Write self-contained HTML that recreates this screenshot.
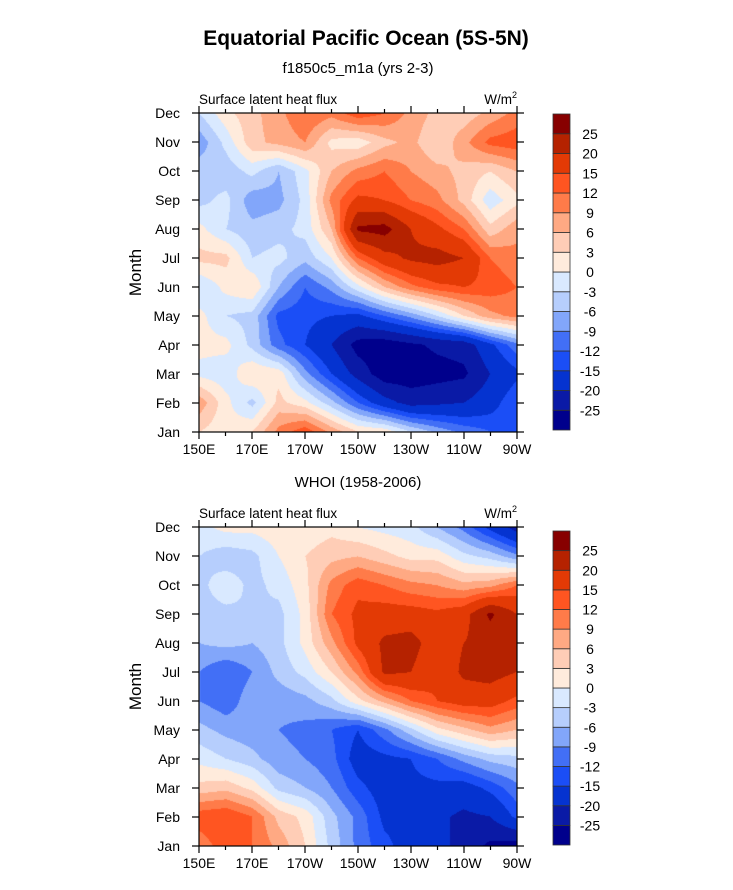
<!DOCTYPE html>
<html><head><meta charset="utf-8">
<style>
body{margin:0;background:#fff;width:733px;height:890px;position:relative;overflow:hidden;font-family:"Liberation Sans",Arial,sans-serif;}
canvas{position:absolute;}
svg{position:absolute;left:0;top:0;}
</style></head>
<body>
<canvas id="c1" width="318" height="319" style="left:199px;top:113px"></canvas>
<canvas id="c2" width="318" height="319" style="left:199px;top:527px"></canvas>
<svg id="s" width="733" height="890"></svg>
<script>
// longitude categories (columns) and months (rows, Jan..Dec)
const lons = ["150E","160E","170E","180","170W","160W","150W","140W","130W","120W","110W","100W","90W"];
const lonTickLabels = ["150E","170E","170W","150W","130W","110W","90W"];
const months = ["Jan","Feb","Mar","Apr","May","Jun","Jul","Aug","Sep","Oct","Nov","Dec"];
const levels = [-25,-20,-15,-12,-9,-6,-3,0,3,6,9,12,15,20,25];
const levelColors = ["#00008c","#0a1aa6","#0533d0","#1b4ef6","#426ff6","#82a6fa","#b6cefd","#d9e9ff","#ffebdc","#ffcdb6","#ffa983","#ff7b49","#ff5521","#e33a05","#b52200","#870000"];
// top panel: model
const topData = [
 [3,1,3,10,14,8,3,2,-3,-7,-10,-12,-14],
 [8,1,-4,4,1,-5,-12,-18,-22,-21,-20,-17,-12],
 [-1,-2,3,2,-8,-15,-22,-28,-28,-27,-26,-20,-16],
 [1,1,-4,-11,-15,-20,-27,-28,-26,-24,-23,-16,-10],
 [1,-3,-4,-13,-14,-15,-16,-12,-8,-3,3,8,10],
 [-3,1,3,-6,-12,-8,-1,6,11,14,15,14,12],
 [4,4,-3,-2,-5,0,12,18,21,22,20,12,10],
 [1,-3,-5,-4,-2,6,26,27,20,16,12,4,8],
 [-4,-2,-8,-7,-2,10,16,15,12,10,5,-2,2],
 [-4,-5,-2,-6,-1,6,10,12,9,7,5,3,6],
 [-8,-2,5,7,9,2,1,5,7,3,8,13,14],
 [-3,2,5,8,12,10,14,12,8,5,4,7,10]
];
// bottom panel: WHOI
const botData = [
 [10,14,12,8,3,-4,-10,-14,-17,-18,-22,-26,-27],
 [14,15,12,5,2,-5,-10,-16,-16,-19,-21,-20,-14],
 [4,5,2,-4,-6,-9,-14,-17,-16,-16,-17,-14,-10],
 [-1,-3,-5,-8,-9,-11,-17,-16,-15,-12,-8,-5,-4],
 [-5,-7,-8,-9,-10,-12,-15,-10,-4,2,5,8,6],
 [-9,-11,-7,-8,-7,-4,2,7,12,15,17,17,14],
 [-9,-12,-9,-5,-2,3,10,21,20,16,21,22,20],
 [-6,-5,-6,-4,1,8,16,21,22,17,20,22,20],
 [-4,-4,-3,-4,1,12,16,17,17,16,18,26,20],
 [-4,-1,-4,-2,2,10,14,12,10,9,7,8,12],
 [-3,-5,-4,0,3,5,6,4,2,2,-2,-4,-8],
 [-1,1,1,2,1,2,0,-1,-2,-6,-10,-16,-22]
];
function hex(c){return [parseInt(c.substr(1,2),16),parseInt(c.substr(3,2),16),parseInt(c.substr(5,2),16)];}
const rgb = levelColors.map(hex);
function colorIdx(v){let i=0;while(i<levels.length&&v>=levels[i])i++;return i;}
function drawField(id,data){
  const cv=document.getElementById(id),ctx=cv.getContext('2d');
  const W=cv.width,H=cv.height,img=ctx.createImageData(W,H);
  const nx=lons.length-1, ny=months.length-1;
  for(let py=0;py<H;py++){
    const fy=(H-1-py)/(H-1)*ny; const j=Math.min(Math.floor(fy),ny-1), ty=fy-j;
    for(let px=0;px<W;px++){
      const fx=px/(W-1)*nx; const i=Math.min(Math.floor(fx),nx-1), tx=fx-i;
      const v=(data[j][i]*(1-tx)+data[j][i+1]*tx)*(1-ty)+(data[j+1][i]*(1-tx)+data[j+1][i+1]*tx)*ty;
      const c=rgb[colorIdx(v)], k=(py*W+px)*4;
      img.data[k]=c[0];img.data[k+1]=c[1];img.data[k+2]=c[2];img.data[k+3]=255;
    }
  }
  ctx.putImageData(img,0,0);
}
drawField('c1',topData);
drawField('c2',botData);

const NS="http://www.w3.org/2000/svg";
const svg=document.getElementById('s');
function el(tag,attrs,text){const e=document.createElementNS(NS,tag);for(const k in attrs)e.setAttribute(k,attrs[k]);if(text!==undefined)e.textContent=text;svg.appendChild(e);return e;}
function txt(x,y,s,size,anchor,extra){const t=el('text',Object.assign({x:x,y:y,'font-size':size,'text-anchor':anchor||'start','font-family':'Liberation Sans, Arial, sans-serif',fill:'#000'},extra||{}),s);return t;}

const t0=txt(366,45,"Equatorial Pacific Ocean (5S-5N)",21,'middle',{'font-weight':'bold'});


function panel(top,subtitle,name){
  const L=199,R=517,B=top+319, X=v=>L+v/(lons.length-1)*(R-L), Y=m=>B-m/(months.length-1)*(B-top);
  const st=txt(358,top-40,subtitle,15,'middle');
  
  const lt=txt(199,top-9,"Surface latent heat flux",13.5,'start');
  
  const ut=el('text',{x:517,y:top-9,'font-size':13.5,'text-anchor':'end','font-family':'Liberation Sans, Arial, sans-serif'});
  ut.innerHTML='W/m<tspan font-size="9" dy="-6">2</tspan>';
  
  const fr=el('rect',{x:L,y:top,width:R-L,height:B-top,fill:'none',stroke:'#000','stroke-width':1.2});
  
  for(let i=0;i<lons.length;i++){
    const x=X(i), len=(i%2===0)?7:4;
    el('line',{x1:x,y1:B,x2:x,y2:B+len,stroke:'#000','stroke-width':1.2});
    el('line',{x1:x,y1:top,x2:x,y2:top-len,stroke:'#000','stroke-width':1.2});
  }
  lonTickLabels.forEach((s,k)=>{
    const t=txt(X(k*2),B+22,s,14,'middle');
    
  });
  months.forEach((m,k)=>{
    const y=Y(k);
    el('line',{x1:L,y1:y,x2:L-7,y2:y,stroke:'#000','stroke-width':1.2});
    el('line',{x1:R,y1:y,x2:R+7,y2:y,stroke:'#000','stroke-width':1.2});
    const t=txt(180,y+5,m,14,'end');
    
  });
  const yt=txt(0,0,"Month",17,'middle',{transform:`translate(141,${(top+B)/2}) rotate(-90)`});
  
}
function colorbar(top,bottom,name){
  const x=553,w=17,n=levelColors.length,h=(bottom-top)/n;
  levelColors.forEach((c,k)=>{
    const r=el('rect',{x:x,y:bottom-(k+1)*h,width:w,height:h,fill:c,stroke:'#333','stroke-width':0.8});
    
  });
  levels.forEach((v,k)=>{
    const y=bottom-(k+1)*h;
    const t=txt(x+w+20,y+5,String(v),14,'middle');
    
  });
}
panel(113,"f1850c5_m1a (yrs 2-3)","top");
panel(527,"WHOI (1958-2006)","bottom");
colorbar(114,430,"top");
colorbar(531,845,"bottom");
</script>
</body></html>
